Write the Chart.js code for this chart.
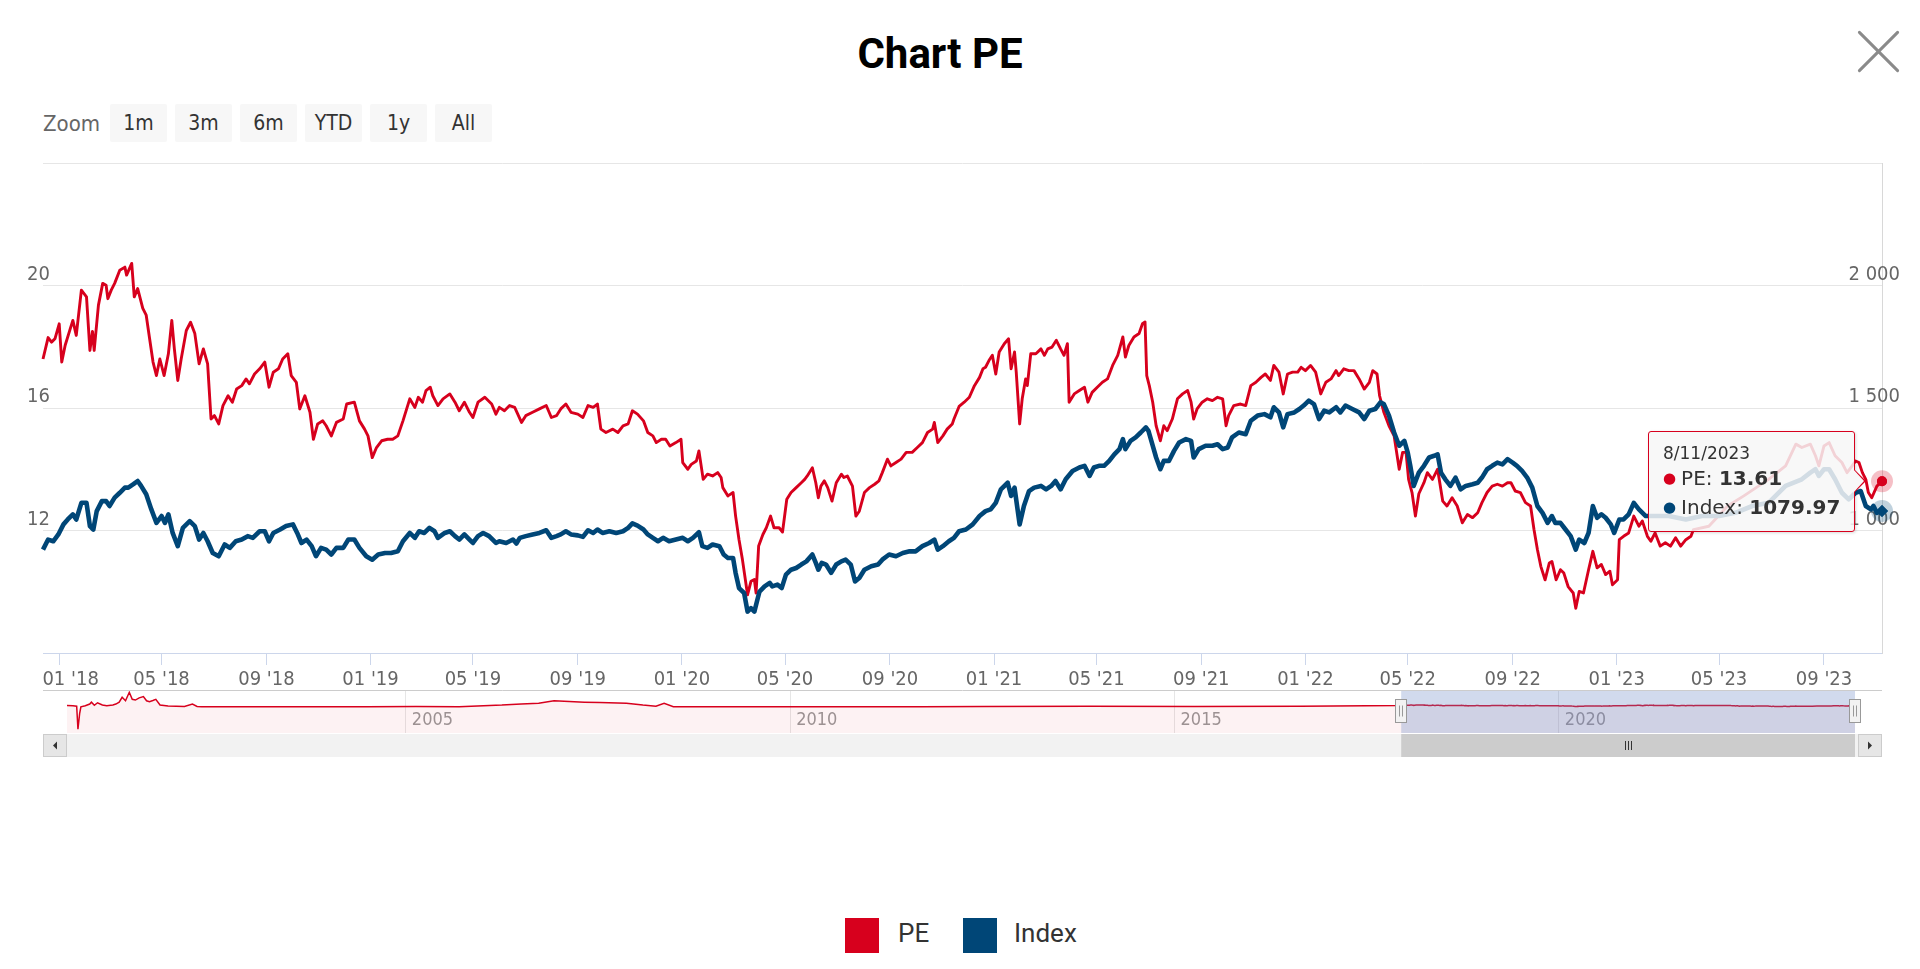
<!DOCTYPE html>
<html>
<head>
<meta charset="utf-8">
<title>Chart PE</title>
<script src="https://cdn.jsdelivr.net/npm/chart.js@4.4.0/dist/chart.umd.min.js"></script>
<style>
  html, body { margin: 0; padding: 0; background: #fff; }
  #wrap { position: relative; width: 1920px; height: 969px; overflow: hidden;
          font-family: 'DejaVu Sans Condensed', 'DejaVu Sans', sans-serif; }
  #titulo { position: absolute; left: 0; top: 29px; width: 1880px; text-align: center;
            font: bold 42px Roboto, sans-serif; line-height: 50px; color: #000; }
  #cerrar { position: absolute; left: 1850px; top: 23px; width: 57px; height: 57px; }
  #cerrar:before, #cerrar:after { content: ''; position: absolute; left: 0; top: 27px; width: 57px; height: 3px;
            background: #8a8a8a; border-radius: 2px; }
  #cerrar:before { transform: rotate(45deg); }
  #cerrar:after { transform: rotate(-45deg); }
  #zoom { position: absolute; left: 43px; top: 104px; height: 38px; display: flex; align-items: center; }
  #zoom .lbl { color: #666; font-size: 22px; margin-right: 10px; }
  #zoom .btn { width: 57px; height: 38px; line-height: 38px; background: #f7f7f7; color: #333; font-size: 21px;
               text-align: center; margin-right: 8px; border-radius: 2px; }
  canvas { position: absolute; left: 0; }
  #tt { position: absolute; display: none; background: rgba(247,247,247,0.85); border: 1px solid #d7001d;
        border-radius: 3px; padding: 9px 14px 8px 14px; white-space: nowrap; color: #333;
        font-family: 'DejaVu Sans', sans-serif; box-shadow: 1px 1px 3px rgba(0,0,0,0.15); }
  #tt .t { font-size: 17px; line-height: 24px; }
  #tt .r { font-size: 20px; line-height: 27px; }
  #tt .d { font-size: 15px; margin-right: 5px; position: relative; top: -2px; }
  #tt .c1, #tt .c2 { position: absolute; top: 50%; width: 0; height: 0; border-top: 12px solid transparent;
        border-bottom: 12px solid transparent; }
  #tt .c1 { right: -12px; margin-top: -12px; border-left: 12px solid #d7001d; }
  #tt .c2 { right: -10px; margin-top: -12px; border-left: 11px solid #f8f8f8; }
  .sw { position: absolute; top: 918px; width: 34px; height: 35px; }
  .lt { position: absolute; top: 918px; height: 35px; line-height: 35px; font: 26px Roboto, sans-serif; color: #333; }
</style>
</head>
<body>
<div id="wrap">
  <div id="titulo">Chart PE</div>
  <div id="cerrar"></div>
  <div id="zoom">
    <span class="lbl">Zoom</span>
    <span class="btn">1m</span><span class="btn">3m</span><span class="btn">6m</span>
    <span class="btn">YTD</span><span class="btn">1y</span><span class="btn">All</span>
  </div>
  <canvas id="grafica_pe" width="1920" height="540" style="top:150px"></canvas>
  <canvas id="navegador" width="1920" height="80" style="top:684px"></canvas>
  <div id="tt"></div>
  <span class="sw" style="left:845px;background:#d7001d"></span><span class="lt" style="left:898px">PE</span>
  <span class="sw" style="left:963px;background:#004677"></span><span class="lt" style="left:1014px">Index</span>
</div>

<script>
/*-----Datos: [días desde 2018-01-01, valor]-----*/

const pe = [
  [-19,17.6],[-13,18.3],[-9,18.15],[-5,18.26],[0,18.75],[3,17.5],[7,18.05],[12,18.5],[16,18.86],[20,18.37],
  [26,19.85],[32,19.63],[36,17.88],[39,18.5],[41,17.88],[46,19.36],[51,20.07],[55,20.01],[57,19.57],[61,19.85],
  [65,20.07],[71,20.5],[77,20.6],[79,20.34],[85,20.72],[88,19.63],[92,19.9],[98,19.25],[102,19.03],[106,18.26],
  [110,17.5],[114,17.06],[118,17.6],[123,17.06],[128,17.77],[132,18.86],[135,17.93],[139,16.9],[143,17.6],[149,18.53],
  [154,18.8],[159,18.43],[164,17.44],[169,17.93],[174,17.44],[178,15.64],[182,15.75],[187,15.48],[192,16.08],[198,16.4],
  [203,16.19],[208,16.62],[214,16.73],[219,16.95],[223,16.79],[229,17.11],[235,17.28],[241,17.5],[246,16.68],[251,17.17],
  [257,17.28],[262,17.6],[268,17.77],[272,17.06],[278,16.84],[282,15.97],[288,16.4],[294,15.86],[298,14.98],[303,15.48],
  [309,15.58],[313,15.42],[319,15.09],[325,15.53],[333,15.64],[337,16.13],[346,16.19],[352,15.58],[358,15.31],[362,15.09],
  [367,14.38],[372,14.71],[378,14.93],[385,14.98],[391,14.98],[397,15.09],[403,15.58],[411,16.3],[417,16.02],[421,16.35],
  [426,16.19],[430,16.57],[435,16.68],[438,16.4],[444,16.08],[450,16.3],[458,16.46],[464,16.19],[469,15.91],[475,16.19],
  [481,15.86],[485,15.69],[491,16.19],[499,16.35],[507,16.13],[512,15.8],
  [516,16.02],[522,15.91],[528,16.08],[534,16.02],[542,15.53],[547,15.75],[555,15.86],[563,15.97],[571,16.08],[577,15.69],
  [583,15.75],[588,15.97],[594,16.13],[600,15.86],[608,15.8],[614,15.69],[620,16.08],[626,16.02],[631,16.13],[635,15.31],
  [641,15.2],[649,15.31],[655,15.2],[661,15.42],[667,15.48],[672,15.91],[678,15.8],[685,15.58],[690,15.2],[696,15.09],
  [700,14.87],[706,14.98],[711,14.98],[716,14.76],[723,14.87],[729,14.98],[731,14.22],[737,14.0],[741,14.16],[747,14.27],
  [750,14.6],[755,13.67],[760,13.84],[766,13.78],[772,13.89],[776,13.73],[778,13.4],[784,13.13],[790,13.24],[793,12.47],
  [797,11.7],[801,11.05],[807,9.9],[811,10.34],[815,10.4],[817,9.96],[820,11.49],[825,11.87],[829,12.09],[834,12.47],
  [838,12.09],[844,12.09],[848,11.95],[853,13.02],[858,13.24],[864,13.4],[870,13.56],[874,13.67],[877,13.78],[883,14.05],
  [887,13.56],[890,13.07],[893,13.45],[897,13.62],[901,13.4],[906,12.96],[911,13.56],[917,13.84],[920,13.73],[924,13.78],
  [930,13.45],[934,12.47],[938,12.63],[944,13.24],[950,13.4],[956,13.51],[961,13.62],[965,13.89],[971,14.33],[975,14.11],
  [981,14.22],[987,14.33],[993,14.55],[1000,14.55],[1006,14.71],[1012,14.87],[1018,15.2],[1024,15.31],[1026,15.53],[1030,14.87],
  [1036,15.09],[1041,15.31],[1047,15.48],[1049,15.64],[1055,16.05],
  [1061,16.19],[1067,16.35],[1073,16.73],[1079,17.0],[1083,17.28],[1086,17.33],[1090,17.55],[1094,17.72],[1098,17.11],[1102,17.83],
  [1108,18.1],[1113,18.26],[1116,17.28],[1120,17.83],[1122,17.17],[1126,15.48],[1129,16.3],[1133,16.95],[1135,16.73],[1139,17.77],
  [1145,17.77],[1151,17.93],[1155,17.72],[1159,17.93],[1164,17.99],[1169,18.21],[1174,17.93],[1178,17.72],[1182,18.1],[1184,16.19],
  [1190,16.46],[1196,16.57],[1202,16.68],[1206,16.19],[1211,16.51],[1217,16.68],[1223,16.84],[1229,16.95],[1235,17.39],[1241,17.72],
  [1247,18.32],[1250,17.66],[1254,18.04],[1260,18.32],[1266,18.43],[1270,18.75],[1273,18.81],[1275,17.06],[1278,16.73],[1282,16.19],
  [1286,15.42],[1291,14.93],[1295,15.42],[1299,15.26],[1305,15.64],[1311,16.3],[1317,16.46],[1323,16.57],[1327,16.19],[1330,15.64],
  [1334,15.97],[1340,16.19],[1346,16.3],[1352,16.24],[1358,16.35],[1364,16.3],[1368,15.42],[1371,15.75],[1377,16.08],[1385,16.13],
  [1391,16.08],[1397,16.73],[1403,16.84],[1409,17.0],[1414,17.11],[1420,16.9],[1424,17.39],[1430,17.17],[1435,16.46],[1440,17.11],
  [1446,17.17],[1452,17.17],[1456,17.33],[1461,17.22],[1467,17.39],[1473,17.17],[1479,16.46],[1485,16.84],[1491,16.95],[1497,17.22],
  [1500,17.06],[1506,17.28],[1512,17.22],[1518,17.22],[1524,16.95],[1530,16.62],[1536,16.84],[1540,17.22],[1545,17.11],[1548,16.4],
  [1553,15.86],[1559,15.42],[1565,15.09],[1571,14.0],[1575,14.55],[1579,14.55],[1582,13.67],[1586,13.24],[1590,12.47],[1594,13.2],
  [1600,13.56],[1604,13.89],[1610,13.67],[1614,13.89],[1616,14.0],[1622,12.96],[1627,12.8],[1633,13.07],[1639,12.8],[1645,12.25],
  [1651,12.52],[1657,12.42],[1663,12.58],[1668,12.91],[1674,13.24],[1680,13.45],[1686,13.51],[1692,13.45],[1698,13.56],[1702,13.56],
  [1707,13.29],[1713,13.24],[1719,12.91],[1725,12.8],[1729,12.03],[1733,11.38],[1737,10.83],[1742,10.39],[1747,10.94],[1750,10.99],
  [1755,10.39],[1760,10.72],[1764,10.61],[1769,10.17],[1775,9.96],[1778,9.46],[1782,10.01],[1787,9.96],[1793,10.72],[1798,11.32],
  [1803,10.78],[1808,10.89],[1813,10.56],[1818,10.67],[1821,10.23],[1827,10.39],[1829,11.7],[1834,11.81],[1840,11.92],[1846,12.47],
  [1852,12.14],[1856,12.31],[1862,11.81],[1866,11.65],[1871,11.92],[1877,11.49],[1883,11.6],[1889,11.49],[1895,11.76],[1901,11.49],
  [1907,11.7],[1913,11.81],[1916,12.03],[1934,12.14],[1956,12.8],[1975,13.13],[2004,13.67],[2024,14.11],[2036,14.82],[2043,14.71],
  [2053,14.82],[2059,14.44],[2063,14.11],[2069,14.76],[2075,14.87],[2082,14.44],[2090,14.22],[2096,13.89],[2102,14.11],[2106,14.27],
  [2110,14.22],[2114,13.89],[2118,13.67],[2121,13.24],[2125,13.07],[2131,13.45],[2137,13.61]
];

const indice = [
  [-19,922],[-13,963],[-7,956],[-1,984],[5,1025],[10,1045],[16,1066],[20,1045],[26,1113],[32,1113],
  [36,1018],[40,1004],[44,1079],[50,1120],[55,1120],[59,1100],[65,1134],[71,1154],[77,1175],[81,1175],
  [87,1189],[92,1202],[96,1182],[102,1148],[108,1086],[114,1031],[120,1059],[124,1031],[128,1066],[133,990],
  [139,936],[145,1011],[153,1038],[159,1018],[164,963],[169,990],[174,956],[180,908],[187,895],[194,943],
  [200,929],[207,956],[214,963],[221,977],[227,970],[235,997],[241,997],[246,956],[251,990],[259,1004],
  [266,1018],[274,1025],[279,990],[284,949],[290,963],[296,936],[301,895],[307,929],[313,922],[319,902],
  [325,929],[333,929],[339,963],[346,963],[352,929],[360,895],[367,881],[374,902],[382,908],[389,908],
  [397,915],[403,956],[411,990],[417,970],[422,997],[428,990],[434,1011],[440,997],[444,970],[452,990],
  [458,997],[464,977],[469,963],[475,984],[481,963],[485,949],[491,977],[497,990],[504,977],[512,949],
  [516,956],[524,949],[532,963],[536,947],[540,970],[547,977],[555,984],[563,990],[571,1001],[577,970],
  [583,977],[588,984],[594,997],[600,984],[608,980],[614,974],[620,1001],[626,990],[631,1004],[637,990],
  [645,997],[653,990],[661,997],[667,1011],[672,1029],[678,1020],[685,1004],[690,984],[696,970],[702,956],
  [708,970],[715,956],[723,963],[731,970],[737,956],[743,970],[750,993],[754,936],[760,929],[766,943],
  [774,936],[779,902],[784,888],[790,888],[793,827],[797,765],[803,745],[807,669],[811,683],[815,669],
  [818,710],[821,751],[827,772],[833,786],[836,772],[842,779],[847,765],[852,820],[858,840],[864,847],
  [870,861],[876,874],[883,902],[887,868],[890,840],[894,868],[899,861],[905,827],[911,861],[917,874],
  [922,881],[928,861],[933,792],[938,806],[944,840],[952,854],[960,861],[965,881],[973,902],[981,895],
  [989,908],[997,915],[1004,915],[1012,936],[1020,949],[1026,963],[1030,922],[1036,936],[1043,956],[1049,970],
  [1055,997],
  [1063,1004],[1071,1025],[1079,1059],[1086,1079],[1092,1086],[1098,1113],[1104,1168],[1112,1195],[1116,1141],[1120,1175],
  [1126,1025],[1131,1100],[1137,1161],[1143,1175],[1151,1182],[1157,1168],[1163,1182],[1168,1202],[1174,1168],[1180,1209],
  [1188,1243],[1196,1257],[1202,1264],[1208,1223],[1213,1257],[1219,1264],[1225,1264],[1231,1284],[1237,1311],[1243,1332],
  [1247,1373],[1250,1332],[1256,1366],[1262,1380],[1268,1400],[1274,1421],[1277,1407],[1282,1346],[1286,1298],[1291,1250],
  [1295,1284],[1301,1284],[1307,1325],[1313,1359],[1321,1373],[1327,1366],[1330,1298],[1336,1332],[1344,1346],[1352,1346],
  [1358,1352],[1364,1332],[1370,1339],[1375,1380],[1383,1400],[1391,1393],[1397,1448],[1405,1469],[1413,1475],[1420,1462],
  [1424,1503],[1430,1482],[1435,1421],[1440,1475],[1448,1482],[1454,1496],[1459,1510],[1465,1530],[1471,1516],[1477,1455],
  [1483,1489],[1489,1482],[1497,1503],[1502,1482],[1508,1510],[1516,1496],[1524,1482],[1530,1455],[1536,1489],[1543,1496],
  [1549,1523],[1553,1516],[1559,1469],[1565,1400],[1571,1346],[1577,1366],[1581,1318],[1584,1264],[1588,1182],[1591,1209],
  [1594,1236],
  [1600,1264],[1606,1298],[1612,1305],[1616,1311],[1620,1236],[1625,1209],[1631,1182],[1637,1216],[1643,1168],[1649,1182],
  [1657,1189],[1663,1195],[1668,1216],[1674,1250],[1680,1264],[1686,1277],[1692,1270],[1698,1291],[1704,1277],[1709,1264],
  [1715,1243],[1721,1216],[1727,1175],[1733,1100],[1739,1072],[1745,1031],[1750,1059],[1754,1031],[1760,1031],[1766,1004],
  [1772,977],[1778,922],[1782,963],[1788,949],[1793,990],[1798,1100],[1803,1052],[1808,1066],[1813,1052],[1819,1025],
  [1823,990],[1829,1045],[1834,1045],[1840,1066],[1846,1113],[1852,1086],[1860,1059],[1887,1059],[1907,1045],[1926,1059],
  [1946,1059],[1965,1072],[1985,1100],[2004,1113],[2024,1182],[2043,1209],[2053,1236],[2059,1250],[2063,1223],[2069,1250],
  [2075,1250],[2082,1209],[2090,1154],[2098,1127],[2106,1154],[2112,1161],[2118,1100],[2124,1086],[2127,1100],[2131,1072],
  [2137,1079.97]
];

// PE histórico para el navegador (antes de la zona visible)
const pe_historico = [
  [-6358,17],[-6330,15],[-6312,12],[-6306,-149],[-6298,-40],[-6292,8],[-6271,15],[-6250,27],[-6242,40],[-6228,18],
  [-6213,36],[-6190,20],[-6169,15],[-6140,20],[-6126,27],[-6110,40],[-6096,74],[-6080,50],[-6062,109],[-6048,60],
  [-6033,55],[-6015,70],[-5995,79],[-5980,50],[-5966,44],[-5950,52],[-5936,60],[-5916,20],[-5878,13],[-5800,10],
  [-5762,27],[-5740,10],[-5718,9],[-5500,8],[-5369,8],[-5100,9],[-4932,9],[-4700,10],[-4495,9],[-4292,20],
  [-4200,28],[-4117,33],[-4044,50],[-3972,45],[-3900,40],[-3826,37],[-3700,33],[-3622,20],[-3560,12],[-3521,32],
  [-3477,9],[-3186,8],[-2895,9],[-2604,8],[-2300,9],[-2000,10],[-1500,12],[-1000,10],[-500,12],[-25,17]
];

const fechas_eje = ['2018-01-01','2018-05-01','2018-09-01','2019-01-01','2019-05-01','2019-09-01',
                    '2020-01-01','2020-05-01','2020-09-01','2021-01-01','2021-05-01','2021-09-01',
                    '2022-01-01','2022-05-01','2022-09-01','2023-01-01','2023-05-01','2023-09-01'];
const anios_nav = ['2005','2010','2015','2020'];
const ticks_pe = [8, 12, 16, 20, 24];
const ticks_indice = [500, 1000, 1500, 2000, 2500];

/*-----Utilidades-----*/

const epoch = Date.UTC(2018, 0, 1);
const DIA = 864e5;
const aDia = s => (Date.parse(s) - epoch) / DIA;
const fecha = d => new Date(epoch + d * DIA);
const rojo = '#d7001d', azul = '#004677';
const fuente_eje = { family: "'DejaVu Sans Condensed', 'DejaVu Sans', sans-serif", size: 20 };
const miles = v => String(v).replace(/\B(?=(\d{3})+(?!\d))/g, ' ');

const primero = Math.min(pe[0][0], indice[0][0]);
const ultimo = Math.max(pe[pe.length - 1][0], indice[indice.length - 1][0]);

/*-----Tooltip HTML-----*/

function tooltipExterno(context) {
  const chart = context.chart, tooltip = context.tooltip;
  const el = document.getElementById('tt');
  if (tooltip.opacity === 0 || !tooltip.dataPoints || !tooltip.dataPoints.length) { el.style.display = 'none'; return; }
  const p_pe = tooltip.dataPoints.find(p => p.datasetIndex === 0);
  const p_ix = tooltip.dataPoints.find(p => p.datasetIndex === 1);
  const f = fecha(p_pe.parsed.x);
  el.innerHTML =
    '<div class="t">' + f.getUTCDate() + '/' + (f.getUTCMonth() + 1) + '/' + f.getUTCFullYear() + '</div>' +
    '<div class="r"><span class="d" style="color:' + rojo + '">&#9679;</span>PE: <b>' + p_pe.parsed.y.toFixed(2) + '</b></div>' +
    '<div class="r"><span class="d" style="color:' + azul + '">&#9679;</span>Index: <b>' + p_ix.parsed.y.toFixed(2) + '</b></div>' +
    '<span class="c1"></span><span class="c2"></span>';
  el.style.display = 'block';
  const x = chart.canvas.offsetLeft + p_pe.element.x;
  const y = chart.canvas.offsetTop + p_pe.element.y;
  el.style.left = (x - 27 - el.offsetWidth) + 'px';
  el.style.top = (y - el.offsetHeight / 2) + 'px';
}

// halo bajo el punto activo
const halo = {
  id: 'halo',
  afterDatasetsDraw(chart) {
    const ctx = chart.ctx;
    chart.getActiveElements().forEach(a => {
      const ds = chart.data.datasets[a.datasetIndex];
      ctx.save();
      ctx.fillStyle = ds.colorHalo;
      ctx.beginPath();
      ctx.arc(a.element.x, a.element.y, 11, 0, Math.PI * 2);
      ctx.fill();
      ctx.restore();
      a.element.draw(ctx);
    });
  }
};

/*-----Gráfica principal-----*/

const grafica_pe = new Chart(document.getElementById('grafica_pe'), {
  type: 'line',
  data: {
    datasets: [{
      label: 'PE',
      data: pe.map(p => ({ x: p[0], y: p[1] })),
      yAxisID: 'y',
      borderColor: rojo,
      borderWidth: 2.9,
      pointRadius: 0,
      pointHoverRadius: 5,
      pointHoverBorderWidth: 0,
      pointBackgroundColor: rojo,
      pointHoverBackgroundColor: rojo,
      colorHalo: 'rgba(215,0,29,0.25)',
      order: 2,
      clip: false
    },
    {
      label: 'Index',
      data: indice.map(p => ({ x: p[0], y: p[1] })),
      yAxisID: 'y1',
      borderColor: azul,
      borderWidth: 4.6,
      pointRadius: 0,
      pointStyle: 'rectRot',
      pointHoverRadius: 6,
      pointHoverBorderWidth: 0,
      pointBackgroundColor: azul,
      pointHoverBackgroundColor: azul,
      colorHalo: 'rgba(0,70,119,0.25)',
      order: 1,
      clip: false
    }]
  },
  options: {
    responsive: false,
    animation: false,
    events: [],
    layout: { padding: { left: 43, right: 38, top: 13, bottom: 0 } },
    elements: { line: { tension: 0, borderJoinStyle: 'round' } },
    plugins: {
      legend: { display: false },
      tooltip: { enabled: false, external: tooltipExterno }
    },
    scales: {
      x: {
        type: 'linear',
        min: primero,
        max: ultimo,
        afterBuildTicks: s => { s.ticks = fechas_eje.map(d => ({ value: aDia(d) })); },
        afterFit: s => { s.height = 37; s.paddingLeft = 0; s.paddingRight = 0; },
        ticks: {
          autoSkip: false, maxRotation: 0, padding: 3, color: '#666', font: fuente_eje,
          callback: (v, i) => {
            const f = fecha(v);
            const t = String(f.getUTCMonth() + 1).padStart(2, '0') + " '" + String(f.getUTCFullYear()).slice(2);
            return i === 0 ? '\u00a0\u00a0\u00a0\u00a0' + t : t;
          }
        },
        grid: { drawOnChartArea: false, color: '#ccd6eb', tickLength: 12 },
        border: { color: '#ccd6eb' }
      },
      y: {
        position: 'left',
        min: ticks_pe[0],
        max: ticks_pe[ticks_pe.length - 1],
        afterBuildTicks: s => { s.ticks = ticks_pe.map(v => ({ value: v })); },
        afterFit: s => { s.width = 0; s.paddingTop = 0; s.paddingBottom = 0; },
        ticks: {
          mirror: true, padding: -16, labelOffset: -11, color: '#666', font: fuente_eje,
          callback: v => (v === ticks_pe[0] || v === ticks_pe[ticks_pe.length - 1]) ? '' : v
        },
        grid: { color: '#e6e6e6', drawTicks: false },
        border: { display: false }
      },
      y1: {
        position: 'right',
        min: ticks_indice[0],
        max: ticks_indice[ticks_indice.length - 1],
        afterBuildTicks: s => { s.ticks = ticks_indice.map(v => ({ value: v })); },
        afterFit: s => { s.width = 0; s.paddingTop = 0; s.paddingBottom = 0; },
        ticks: {
          mirror: true, padding: 18, labelOffset: -11, color: '#666', font: fuente_eje,
          callback: v => (v === ticks_indice[0] || v === ticks_indice[ticks_indice.length - 1]) ? '' : miles(v)
        },
        grid: { display: false, drawTicks: false },
        border: { display: true, color: '#d8d8d8' }
      }
    }
  },
  plugins: [halo]
});

const activos = [
  { datasetIndex: 0, index: pe.length - 1 },
  { datasetIndex: 1, index: indice.length - 1 }
];
grafica_pe.setActiveElements(activos);
grafica_pe.tooltip.setActiveElements(activos, { x: 0, y: 0 });
grafica_pe.update();

/*-----Navegador y barra de desplazamiento-----*/

const dibujo_navegador = {
  id: 'dibujo_navegador',
  afterDraw(chart) {
    const ctx = chart.ctx, a = chart.chartArea, sx = chart.scales.x;
    const x0 = sx.getPixelForValue(primero), x1 = sx.getPixelForValue(ultimo);
    const izq = 43, der = 1882;
    ctx.save();
    // zona seleccionada
    ctx.fillStyle = 'rgba(102,133,194,0.3)';
    ctx.fillRect(x0, a.top, x1 - x0, a.bottom - a.top);
    // borde superior
    ctx.strokeStyle = '#cccccc';
    ctx.lineWidth = 1;
    ctx.beginPath(); ctx.moveTo(izq, a.top + 0.5); ctx.lineTo(der, a.top + 0.5); ctx.stroke();
    // asas
    [x0, x1].forEach(x => {
      const hx = Math.round(x) - 5.5, hy = a.top + 9.5;
      ctx.fillStyle = '#f2f2f2'; ctx.strokeStyle = '#999999';
      ctx.fillRect(hx, hy, 11, 23); ctx.strokeRect(hx, hy, 11, 23);
      ctx.beginPath();
      ctx.moveTo(hx + 4, hy + 6); ctx.lineTo(hx + 4, hy + 17);
      ctx.moveTo(hx + 7, hy + 6); ctx.lineTo(hx + 7, hy + 17);
      ctx.stroke();
    });
    // barra de desplazamiento
    const by = a.bottom + 1, bh = 23;
    ctx.fillStyle = '#f2f2f2'; ctx.fillRect(izq, by, der - izq, bh);
    ctx.fillStyle = '#e6e6e6'; ctx.strokeStyle = '#cccccc';
    ctx.fillRect(izq, by, 24, bh); ctx.strokeRect(izq + 0.5, by + 0.5, 23, bh - 1);
    ctx.fillRect(der - 24, by, 24, bh); ctx.strokeRect(der - 23.5, by + 0.5, 23, bh - 1);
    ctx.fillStyle = '#333';
    ctx.beginPath(); ctx.moveTo(izq + 10, by + bh / 2); ctx.lineTo(izq + 14, by + bh / 2 - 4); ctx.lineTo(izq + 14, by + bh / 2 + 4); ctx.fill();
    ctx.beginPath(); ctx.moveTo(der - 10, by + bh / 2); ctx.lineTo(der - 14, by + bh / 2 - 4); ctx.lineTo(der - 14, by + bh / 2 + 4); ctx.fill();
    ctx.fillStyle = '#cccccc';
    ctx.fillRect(x0, by, Math.min(x1, der - 24) - x0, bh);
    const cx = Math.round((x0 + x1) / 2);
    ctx.strokeStyle = '#333'; ctx.lineWidth = 1;
    ctx.beginPath();
    [-3, 0, 3].forEach(d => { ctx.moveTo(cx + d + 0.5, by + 7); ctx.lineTo(cx + d + 0.5, by + 16); });
    ctx.stroke();
    ctx.restore();
  }
};

new Chart(document.getElementById('navegador'), {
  type: 'line',
  data: {
    datasets: [{
      data: pe_historico.concat(pe).map(p => ({ x: p[0], y: p[1] })),
      borderColor: rojo,
      borderWidth: 1.5,
      pointRadius: 0,
      fill: 'start',
      backgroundColor: 'rgba(215,0,29,0.05)',
      tension: 0
    }]
  },
  options: {
    responsive: false,
    animation: false,
    events: [],
    layout: { padding: { left: 67, right: 65, top: 6, bottom: 31 } },
    plugins: { legend: { display: false }, tooltip: { enabled: false } },
    scales: {
      x: {
        type: 'linear',
        min: pe_historico[0][0],
        max: ultimo,
        afterBuildTicks: s => { s.ticks = anios_nav.map(y => ({ value: aDia(y + '-01-01') })); },
        afterFit: s => { s.height = 0; s.paddingLeft = 0; s.paddingRight = 0; },
        ticks: {
          mirror: true, align: 'start', labelOffset: 6, padding: 2, color: '#999', maxRotation: 0,
          font: { family: "'DejaVu Sans Condensed', 'DejaVu Sans', sans-serif", size: 18 },
          callback: v => String(fecha(v).getUTCFullYear())
        },
        grid: { color: '#e6e6e6', drawTicks: false },
        border: { display: false }
      },
      y: { display: false, min: -175, max: 125 }
    }
  },
  plugins: [dibujo_navegador]
});
</script>
</body>
</html>
